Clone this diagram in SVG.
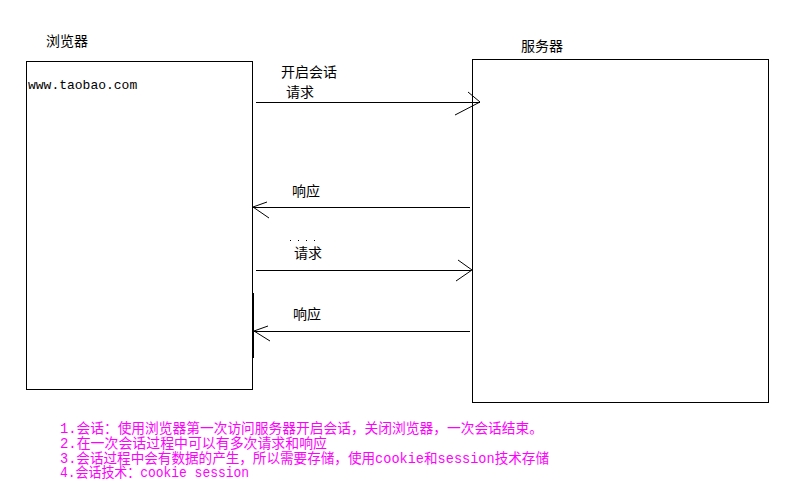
<svg xmlns="http://www.w3.org/2000/svg" width="787" height="489" viewBox="0 0 787 489">
  <style>
    .box { fill: #fff; stroke: #000; stroke-width: 1; }
    .wire { stroke: #000; stroke-width: 1; fill: none; }
    .lbl { font-family: "Noto Sans CJK SC", "Liberation Sans", sans-serif; font-size: 14px; fill: #000; }
    .url { font-family: "Liberation Mono", monospace; font-size: 13px; fill: #000; }
    .note { font-family: "Liberation Mono", "Noto Sans CJK SC", monospace; font-size: 13.8px; fill: #ff00ff; }
    .dot { fill: #000; }
  </style>
  <rect width="787" height="489" fill="#fff"/>

  <g id="browser">
    <rect class="box" x="26.5" y="61.5" width="226" height="328" shape-rendering="crispEdges"/>
    <text class="lbl" x="46" y="46" font-size="15">浏览器</text>
    <text class="url" x="28" y="89">www.taobao.com</text>
    <line x1="253" y1="293" x2="253" y2="358" stroke="#000" stroke-width="2"/>
  </g>

  <g id="server">
    <rect class="box" x="472.5" y="59.5" width="296" height="343" shape-rendering="crispEdges"/>
    <text class="lbl" x="521" y="51" font-size="15">服务器</text>
  </g>

  <g id="connectors" shape-rendering="crispEdges">
    <!-- request 1 -->
    <line class="wire" x1="256" y1="102.5" x2="480" y2="102.5"/>
    <polyline class="wire" points="468,92 480,102 455,115" shape-rendering="auto"/>
    <text class="lbl" x="281" y="77" font-size="13.5">开启会话</text>
    <text class="lbl" x="286" y="97" font-size="13.5">请求</text>

    <!-- response 1 -->
    <line class="wire" x1="470" y1="207.5" x2="253" y2="207.5"/>
    <polyline class="wire" points="267,202 253,207 269,218" shape-rendering="auto"/>
    <text class="lbl" x="292" y="196">响应</text>

    <!-- request 2 -->
    <line class="wire" x1="256" y1="270.5" x2="471" y2="270.5"/>
    <polyline class="wire" points="458,260 472,270 456,281" shape-rendering="auto"/>
    <rect class="dot" x="290" y="240" width="1" height="1"/>
    <rect class="dot" x="298" y="240" width="1" height="1"/>
    <rect class="dot" x="306" y="240" width="1" height="1"/>
    <rect class="dot" x="314" y="240" width="1" height="1"/>
    <text class="lbl" x="294" y="258">请求</text>

    <!-- response 2 -->
    <line class="wire" x1="470" y1="331.5" x2="254" y2="331.5"/>
    <polyline class="wire" points="268,326 254,331 270,341" shape-rendering="auto"/>
    <text class="lbl" x="293" y="319">响应</text>
  </g>

  <g id="notes">
    <text class="note" x="60" y="433" textLength="483" lengthAdjust="spacingAndGlyphs">1.会话：使用浏览器第一次访问服务器开启会话，关闭浏览器，一次会话结束。</text>
    <text class="note" x="60" y="448" textLength="267" lengthAdjust="spacingAndGlyphs">2.在一次会话过程中可以有多次请求和响应</text>
    <text class="note" x="60" y="463" textLength="489" lengthAdjust="spacingAndGlyphs">3.会话过程中会有数据的产生，所以需要存储，使用cookie和session技术存储</text>
    <text class="note" x="60" y="477" textLength="189" lengthAdjust="spacingAndGlyphs">4.会话技术：cookie session</text>
  </g>
</svg>
